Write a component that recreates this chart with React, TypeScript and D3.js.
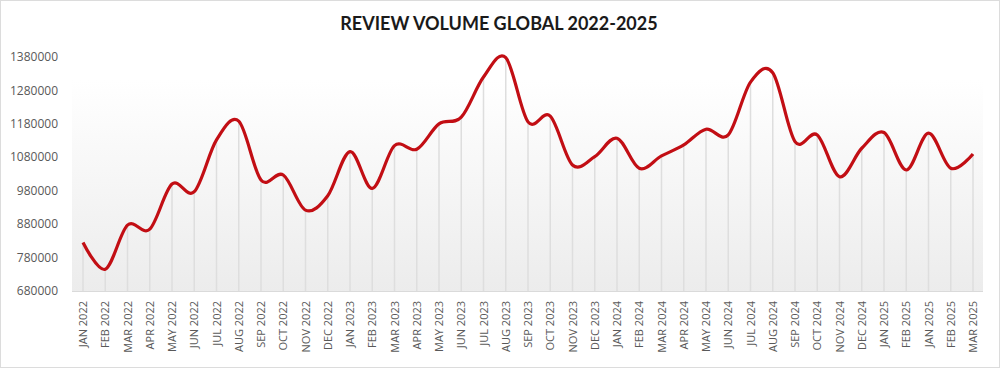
import { useEffect, useRef } from 'react';
import * as d3 from 'd3';

// Category labels (the source chart repeats JAN/FEB 2025)
const labels = [
  'JAN 2022', 'FEB 2022', 'MAR 2022', 'APR 2022', 'MAY 2022', 'JUN 2022',
  'JUL 2022', 'AUG 2022', 'SEP 2022', 'OCT 2022', 'NOV 2022', 'DEC 2022',
  'JAN 2023', 'FEB 2023', 'MAR 2023', 'APR 2023', 'MAY 2023', 'JUN 2023',
  'JUL 2023', 'AUG 2023', 'SEP 2023', 'OCT 2023', 'NOV 2023', 'DEC 2023',
  'JAN 2024', 'FEB 2024', 'MAR 2024', 'APR 2024', 'MAY 2024', 'JUN 2024',
  'JUL 2024', 'AUG 2024', 'SEP 2024', 'OCT 2024', 'NOV 2024', 'DEC 2024',
  'JAN 2025', 'FEB 2025', 'JAN 2025', 'FEB 2025', 'MAR 2025',
];

const volumes = [
  825000, 745000, 877000, 865000, 1000000, 977000,
  1132000, 1188000, 1012000, 1027000, 922000, 965000,
  1097000, 987000, 1115000, 1104000, 1180000, 1200000,
  1320000, 1378000, 1186000, 1203000, 1057000, 1082000,
  1137000, 1047000, 1084000, 1117000, 1164000, 1147000,
  1305000, 1333000, 1127000, 1147000, 1022000, 1107000,
  1154000, 1042000, 1152000, 1047000, 1090000,
];

const yTicks = [680000, 780000, 880000, 980000, 1080000, 1180000, 1280000, 1380000];

const title = 'REVIEW VOLUME GLOBAL 2022-2025';

export default function App() {
  const svgRef = useRef<SVGSVGElement | null>(null);

  useEffect(() => {
    if (!svgRef.current) return;
    const svg = d3.select(svgRef.current);
    svg.selectAll('*').remove();

    const width = 1000;
    const height = 368;
    const plot = { left: 72, right: 983, top: 57, bottom: 291 };

    const x = d3.scalePoint<number>()
      .domain(labels.map((_, i) => i))
      .range([83, 973]);

    const y = d3.scaleLinear()
      .domain([680000, 1380000])
      .range([plot.bottom, plot.top]);

    // background gradient
    const defs = svg.append('defs');
    const grad = defs.append('linearGradient')
      .attr('id', 'bg')
      .attr('x1', 0).attr('y1', 0).attr('x2', 0).attr('y2', 1);
    grad.append('stop').attr('offset', '0%').attr('stop-color', '#ffffff');
    grad.append('stop').attr('offset', '10%').attr('stop-color', '#ffffff');
    grad.append('stop').attr('offset', '100%').attr('stop-color', '#ececec');

    svg.append('rect')
      .attr('x', 0.5).attr('y', 0.5)
      .attr('width', width - 1).attr('height', height - 1)
      .attr('fill', '#fff')
      .attr('stroke', '#dcdcdc');

    svg.append('rect')
      .attr('x', plot.left).attr('y', plot.top)
      .attr('width', plot.right - plot.left)
      .attr('height', plot.bottom - plot.top)
      .attr('fill', 'url(#bg)');

    // title
    svg.append('text')
      .attr('x', 499)
      .attr('y', 30)
      .attr('text-anchor', 'middle')
      .attr('font-family', 'Lato, sans-serif')
      .attr('font-weight', 700)
      .attr('font-size', 18)
      .attr('fill', '#1a1a1a')
      .text(title);

    // y tick labels
    svg.append('g')
      .selectAll('text')
      .data(yTicks)
      .join('text')
      .attr('x', 58)
      .attr('y', d => y(d))
      .attr('dy', '0.35em')
      .attr('text-anchor', 'end')
      .attr('font-family', '"Open Sans", sans-serif')
      .attr('font-size', 12)
      .attr('fill', '#595959')
      .text(d => d);

    // drop lines
    svg.append('g')
      .selectAll('line')
      .data(volumes)
      .join('line')
      .attr('x1', (_, i) => x(i) as number)
      .attr('x2', (_, i) => x(i) as number)
      .attr('y1', d => y(d))
      .attr('y2', plot.bottom)
      .attr('stroke', '#dedede')
      .attr('stroke-width', 1.5);

    // baseline
    svg.append('line')
      .attr('x1', plot.left).attr('x2', plot.right)
      .attr('y1', plot.bottom + 0.5).attr('y2', plot.bottom + 0.5)
      .attr('stroke', '#dadada');

    // x labels
    svg.append('g')
      .selectAll('text')
      .data(labels)
      .join('text')
      .attr('transform', (_, i) => `translate(${(x(i) as number) + 4},${plot.bottom + 10}) rotate(-90)`)
      .attr('text-anchor', 'end')
      .attr('font-family', '"Open Sans", sans-serif')
      .attr('font-size', 11)
      .attr('fill', '#595959')
      .text(d => d);

    // line
    const line = d3.line<number>()
      .x((_, i) => x(i) as number)
      .y(d => y(d))
      .curve(d3.curveCardinal.tension(0));

    svg.append('path')
      .datum(volumes)
      .attr('fill', 'none')
      .attr('stroke', '#c20e14')
      .attr('stroke-width', 3.2)
      .attr('stroke-linejoin', 'round')
      .attr('d', line);
  }, []);

  return (
    <svg
      ref={svgRef}
      width={1000}
      height={368}
      style={{ position: 'absolute', left: 0, top: 0 }}
    />
  );
}
